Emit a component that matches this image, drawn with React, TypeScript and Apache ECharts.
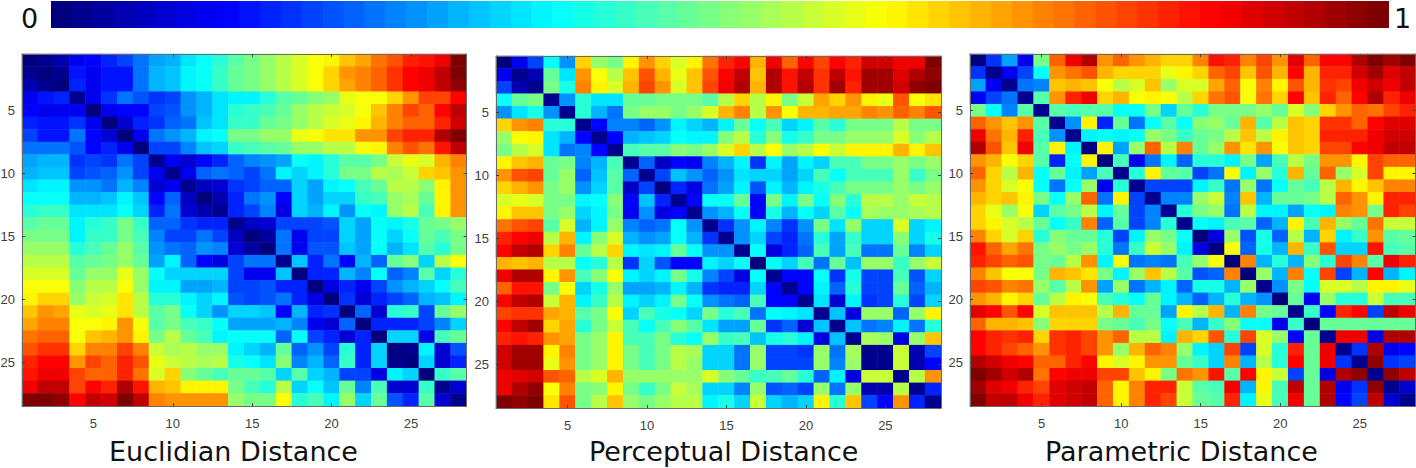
import React, { useEffect, useRef } from "react";
import * as echarts from "echarts";

const categories = Array.from({ length: 28 }, (_, i) => String(i + 1));
const titles = ["Euclidian Distance", "Perceptual Distance", "Parametric Distance"];
const barEnds = ["0", "1"];
const jet = ["#00007f", "#0000ff", "#007fff", "#00ffff", "#7fff7f", "#ffff00", "#ff7f00", "#ff0000", "#7f0000"];

// upper triangles of the symmetric matrices, in percent; each row starts on the diagonal
const euclidian = [
  [0,3,6,11,13,17,19,25,29,31,35,38,42,46,49,52,55,58,61,64,68,71,76,79,83,85,88,100],
  [1,2,15,11,15,15,25,31,32,37,39,43,47,50,52,56,58,62,67,72,75,78,82,87,88,93,100],
  [1,17,12,15,15,25,31,32,37,39,43,47,50,53,56,59,62,67,71,75,78,82,87,88,93,98],
  [2,12,18,24,21,18,20,28,31,35,36,37,42,46,47,51,53,60,62,62,67,72,80,80,87],
  [1,12,13,13,19,21,27,31,35,42,43,45,47,52,55,57,58,62,68,75,80,77,86,93],
  [1,9,16,18,23,25,32,35,43,43,47,49,53,56,58,60,63,69,75,78,78,84,92],
  [1,11,25,28,31,37,38,50,50,52,53,60,62,65,65,73,72,80,84,83,95,100],
  [0,20,20,26,32,33,43,44,46,47,52,53,55,56,61,64,75,79,76,85,93],
  [2,12,9,14,17,23,26,28,29,38,36,41,46,46,50,57,60,59,69,74],
  [2,12,23,24,22,20,24,37,33,37,41,49,50,56,54,57,67,68,72],
  [2,7,9,18,20,23,23,33,29,37,38,45,47,55,56,51,63,72],
  [1,6,17,24,28,14,34,29,34,33,43,44,52,54,47,63,72],
  [2,17,20,26,10,33,31,36,27,39,37,53,55,44,63,72],
  [2,7,9,19,19,19,21,33,29,38,37,40,48,50,52],
  [1,4,24,12,20,20,33,29,39,33,38,48,45,50],
  [1,24,11,21,21,32,29,39,30,35,46,42,49],
  [2,32,17,25,14,30,23,48,51,33,55,61],
  [1,17,17,30,26,38,22,26,46,33,41],
  [1,10,17,12,20,28,31,33,39,44],
  [1,18,8,17,19,22,30,32,37],
  [1,22,9,42,43,19,48,53],
  [1,17,17,17,19,26,33],
  [1,34,34,10,44,47],
  [1,3,36,9,21],
  [1,34,8,16],
  [1,43,46],
  [2,9],
  [2],
];

const perceptual = [
  [1,12,19,38,28,67,53,49,63,73,67,59,64,76,83,86,69,88,78,87,81,87,83,91,91,88,88,99],
  [2,5,48,35,72,61,56,68,79,70,60,68,79,87,93,68,95,85,93,82,93,85,96,96,90,94,98],
  [2,50,40,74,63,58,69,80,72,59,68,81,88,95,69,95,85,94,82,96,84,96,96,91,97,100],
  [2,27,42,35,35,47,48,50,50,50,46,56,66,55,63,50,57,71,66,73,63,60,79,62,65],
  [2,42,30,24,49,52,53,50,52,58,69,75,55,73,62,69,69,71,71,75,72,78,74,79],
  [2,13,26,26,22,28,37,33,31,37,47,38,45,33,37,46,41,49,50,50,55,49,50],
  [2,14,30,32,34,39,37,37,51,55,41,51,40,43,49,50,52,53,53,58,51,55],
  [2,44,46,46,51,50,52,59,67,55,62,52,55,62,57,63,63,63,70,63,68],
  [2,22,7,14,11,26,31,37,18,37,29,37,33,44,44,50,50,53,49,52],
  [2,19,32,27,22,28,35,33,33,29,33,44,39,45,45,45,52,43,50],
  [1,16,10,25,29,37,21,36,30,37,40,44,49,49,49,53,49,52],
  [2,13,38,38,47,14,50,37,50,39,51,42,56,56,52,57,56],
  [2,27,31,38,14,40,30,39,33,46,38,54,53,52,54,56],
  [2,18,27,37,26,18,27,50,35,53,33,33,59,34,37],
  [2,27,34,20,17,25,41,29,43,33,33,51,34,40],
  [2,38,10,16,22,44,29,45,25,25,47,26,34],
  [1,38,33,44,25,47,32,52,52,43,52,57],
  [2,13,13,38,18,40,19,20,45,21,33],
  [2,13,37,22,42,19,19,47,22,31],
  [2,35,8,37,18,19,42,20,34],
  [2,32,10,53,53,22,52,63],
  [2,32,24,26,37,25,42],
  [2,54,53,10,52,68],
  [2,3,57,6,19],
  [2,57,5,14],
  [3,56,73],
  [2,17],
  [3],
];

const parametric = [
  [1,18,29,12,49,77,88,95,73,77,73,69,67,67,75,85,84,74,80,72,90,78,87,87,94,99,96,100],
  [2,11,19,38,72,76,79,69,66,67,67,60,63,67,78,81,68,79,69,86,70,84,84,92,96,90,93],
  [2,25,26,68,69,68,61,55,59,68,52,59,58,71,78,62,74,64,79,70,82,80,88,91,88,93],
  [2,46,72,83,88,66,70,61,63,61,55,67,76,79,62,76,66,87,68,84,77,86,95,84,89],
  [2,46,45,46,46,39,39,49,33,47,41,50,50,50,53,48,58,51,66,72,78,76,81,84],
  [2,28,63,17,47,24,38,46,38,51,52,47,69,46,55,68,67,82,82,77,87,90,90],
  [2,37,38,37,38,52,50,43,48,50,55,68,55,63,68,67,84,84,83,88,92,92],
  [1,64,29,53,78,55,74,48,53,72,65,73,62,68,66,80,80,87,89,93,93],
  [1,44,11,25,36,23,41,41,37,50,29,44,55,50,72,72,63,80,78,78],
  [2,42,63,48,46,19,24,61,36,52,42,69,47,77,53,58,80,63,63],
  [2,19,20,20,37,43,25,52,25,38,47,44,56,69,64,68,75,75],
  [2,26,26,53,57,26,68,31,47,47,50,56,78,73,64,84,84],
  [2,41,50,52,24,55,37,36,29,38,37,74,73,49,83,81],
  [2,38,37,44,46,22,30,63,44,70,52,47,76,57,57],
  [1,10,53,21,40,22,56,30,66,37,43,72,46,47],
  [1,62,22,40,30,70,43,79,33,34,85,45,46],
  [1,74,30,42,30,51,41,80,75,46,88,84],
  [1,52,31,75,38,81,20,31,87,31,36],
  [2,27,49,39,58,58,55,63,63,60],
  [1,47,11,53,41,42,57,45,45],
  [2,43,13,84,86,20,93,88],
  [1,47,47,47,47,48,47],
  [2,89,89,10,95,94],
  [3,18,95,11,14],
  [3,97,18,19],
  [2,98,93],
  [3,9],
  [3],
];

const matrices = [euclidian, perceptual, parametric];

const cells = (rows: number[][]) => {
  const out: number[][] = [];
  rows.forEach((row, r) =>
    row.forEach((v, k) => {
      const c = r + k;
      out.push([c, r, v / 100]);
      if (c !== r) out.push([r, c, v / 100]);
    })
  );
  return out;
};

const grids = [
  { left: 22, top: 54, width: 444.5, height: 352 },
  { left: 496, top: 56, width: 445, height: 352 },
  { left: 970, top: 54, width: 445.5, height: 352 },
];

const tickLabel = { color: "#404040", fontSize: 13, fontFamily: "Liberation Sans" };
const isFifth = (i: number) => (i + 1) % 5 === 0;

export default function App() {
  const ref = useRef<HTMLDivElement>(null);
  useEffect(() => {
    const chart = echarts.init(ref.current!, undefined, { renderer: "svg" });
    const xAxis: any[] = [];
    const yAxis: any[] = [];
    grids.forEach((_, g) => {
      const line = { show: true, onZero: false, lineStyle: { color: "#6a6a6a", width: 1 } };
      const tick = { show: true, inside: true, length: 3, alignWithLabel: true, interval: isFifth, lineStyle: { color: "#404040", width: 1 } };
      xAxis.push({ type: "category", gridIndex: g, position: "bottom", data: categories, z: 5, axisLine: line, axisTick: tick, splitLine: { show: false },
        axisLabel: { ...tickLabel, interval: isFifth, margin: 11 } });
      yAxis.push({ type: "category", gridIndex: g, position: "left", inverse: true, data: categories, z: 5, axisLine: line, axisTick: tick, splitLine: { show: false },
        axisLabel: { ...tickLabel, interval: isFifth, margin: 7 } });
      xAxis.push({ type: "category", gridIndex: g, position: "top", data: categories, z: 5, axisLine: line, axisTick: tick, axisLabel: { show: false } });
      yAxis.push({ type: "category", gridIndex: g, position: "right", inverse: true, data: categories, z: 5, axisLine: line, axisTick: tick, axisLabel: { show: false } });
    });
    chart.setOption({
      animation: false,
      backgroundColor: "#ffffff",
      grid: grids.map((g) => ({ ...g, containLabel: false, outerBoundsMode: "none" })),
      xAxis,
      yAxis,
      visualMap: {
        type: "piecewise",
        min: 0,
        max: 1,
        splitNumber: 64,
        orient: "horizontal",
        left: 51,
        top: 1,
        itemWidth: 21.9,
        itemHeight: 27,
        itemGap: -1.01,
        itemSymbol: "rect",
        showLabel: false,
        padding: 0,
        hoverLink: false,
        selectedMode: false,
        seriesIndex: [0, 1, 2],
        dimension: 2,
        inRange: { color: jet },
      },
      series: matrices.map((rows, g) => ({
        type: "heatmap",
        xAxisIndex: g * 2,
        yAxisIndex: g * 2,
        data: cells(rows),
        emphasis: { disabled: true },
        itemStyle: { borderWidth: 0 },
        progressive: 0,
      })),
      graphic: [
        { type: "text", left: 21, top: 5, style: { text: barEnds[0], fontSize: 27, fontFamily: "DejaVu Sans", fill: "#111111" } },
        { type: "text", left: 1394, top: 5, style: { text: barEnds[1], fontSize: 27, fontFamily: "DejaVu Sans", fill: "#111111" } },
        ...titles.map((t, g) => ({
          type: "text",
          left: [109, 589, 1045][g],
          top: 438,
          style: { text: t, fontSize: 27, fontFamily: "DejaVu Sans", fill: "#111111" },
        })),
      ],
    });
    return () => chart.dispose();
  }, []);
  return <div ref={ref} style={{ position: "absolute", left: 0, top: 0, width: 1416, height: 468 }} />;
}
